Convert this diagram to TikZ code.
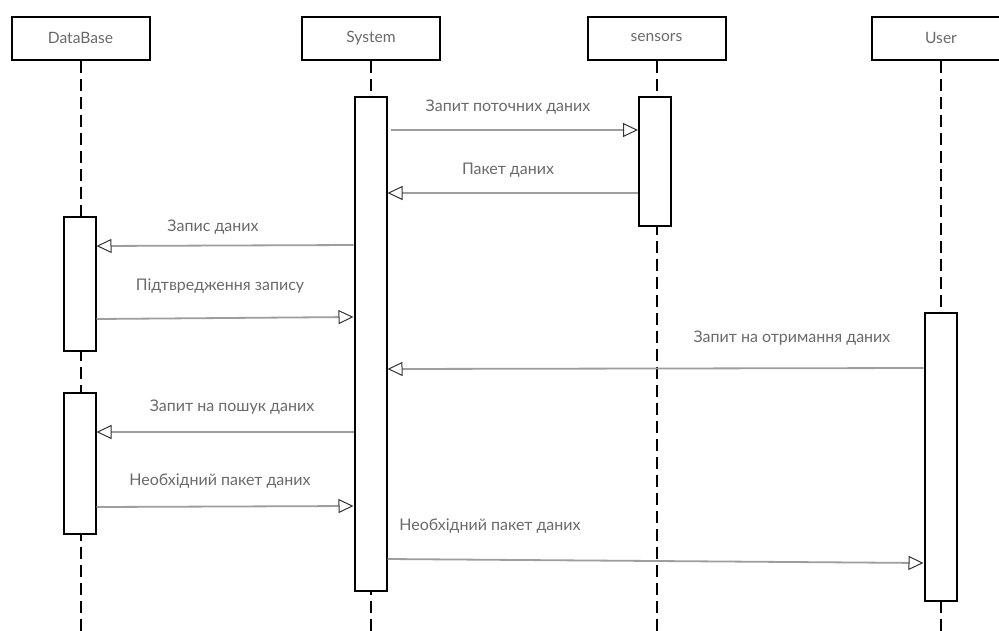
\documentclass[tikz,border=0pt]{standalone}
\usepackage{fontspec}
\setmainfont{Lato}
\usetikzlibrary{arrows.meta}
\definecolor{txt}{HTML}{6A6A6A}
\definecolor{msg}{HTML}{9E9E9E}
\begin{document}
\begin{tikzpicture}[x=1pt,y=-1pt,
  head/.style={draw=black,line width=2pt,fill=white,minimum width=138pt,minimum height=43pt,inner sep=0pt,text=txt,font=\fontsize{15.6}{17}\selectfont},
  act/.style={draw=black,line width=2pt,fill=white,inner sep=0pt,minimum width=32pt},
  life/.style={line width=2pt,dash pattern=on 12pt off 6pt},
  msgline/.style={draw=msg,line width=1.8pt,-{Triangle[open,length=15pt,width=14pt,line width=1pt,color=black!80]}},
  lbl/.style={text=txt,font=\fontsize{16}{18}\selectfont,inner sep=0pt}]
\fill[white] (0,0) rectangle (999,630);
\clip (0,0) rectangle (999,630);
\useasboundingbox (0,0) rectangle (999,630);
% headers
\node[head] (db) at (80.5,38) {DataBase};
\node[head] (sys) at (371,38) {System};
\node[head] (sen) at (656.5,38) {sensors};
\node[head] (usr) at (941,38) {User};
% lifeline ends
\coordinate (dbend) at (80.5,632);
\coordinate (sysend) at (371,632);
\coordinate (senend) at (656.5,632);
\coordinate (usrend) at (941,632);
\draw[life] (db.south) -- (dbend);
\draw[life] (sys.south) -- (sysend);
\draw[life] (sen.south) -- (senend);
\draw[life] (usr.south) -- (usrend);
% activations
\node[act,minimum height=494pt] (sysact) at (370.5,344) {};
\node[act,minimum height=129pt] (senact) at (655,161.5) {};
\node[act,minimum height=134pt] (db1) at (79.5,284) {};
\node[act,minimum height=141pt] (db2) at (79.5,463.5) {};
\node[act,minimum height=288pt] (usract) at (940.5,457) {};
% messages
\draw[msgline] ([xshift=3pt]sysact.east |- 0,130) -- (senact.west |- 0,130);
\draw[msgline] (senact.west |- 0,193) -- (sysact.east |- 0,193);
\draw[msgline] (sysact.west |- 0,245) -- (db1.east |- 0,246);
\draw[msgline] (db1.east |- 0,319) -- (sysact.west |- 0,317);
\draw[msgline] (usract.west |- 0,368) -- (sysact.east |- 0,369);
\draw[msgline] (sysact.west |- 0,432) -- (db2.east |- 0,432);
\draw[msgline] (db2.east |- 0,507) -- (sysact.west |- 0,506);
\draw[msgline] (sysact.east |- 0,559) -- (usract.west |- 0,563);
% labels
\node[lbl] (l1) at (508,107) {Запит поточних даних};
\node[lbl] (l2) at (508,170) {Пакет даних};
\node[lbl] (l3) at (213,227) {Запис даних};
\node[lbl] (l4) at (220,286) {Підтвредження запису};
\node[lbl] (l5) at (792,338) {Запит на отримання даних};
\node[lbl] (l6) at (232,407) {Запит на пошук даних};
\node[lbl] (l7) at (220,481) {Необхідний пакет даних};
\node[lbl] (l8) at (490,526) {Необхідний пакет даних};
\end{tikzpicture}
\end{document}
